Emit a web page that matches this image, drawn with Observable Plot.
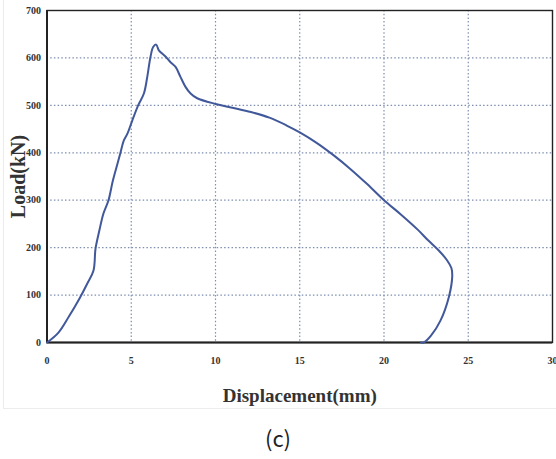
<!DOCTYPE html>
<html>
<head>
<meta charset="utf-8">
<script src="https://cdn.jsdelivr.net/npm/d3@7"></script>
<script src="https://cdn.jsdelivr.net/npm/@observablehq/plot@0.6"></script>
<style>
  html, body { margin: 0; padding: 0; background: #fff; }
  #wrap { width: 556px; height: 459px; position: relative; }
  #chart { position: absolute; left: 0; top: 0; }
  #frame { position: absolute; left: 3px; top: 0; width: 553px; height: 408px; border-left: 1px solid #ececec; border-bottom: 1px solid #ececec; }
  #caption { position: absolute; left: 0; top: 422px; width: 556px; text-align: center; font-family: "Noto Sans CJK KR", "Noto Sans", sans-serif; font-size: 22px; line-height: 30px; color: #222; }
</style>
</head>
<body>
<div id="wrap">
  <div id="frame"></div>
  <div id="chart"></div>
  <div id="caption">(c)</div>
</div>
<script>
const disp = [0, 0.68, 1.3, 1.93, 2.4, 2.76, 2.88, 3.1, 3.35, 3.65, 3.9, 4.12, 4.36, 4.56, 4.78, 5.06, 5.41, 5.75, 5.95, 6.14, 6.3, 6.48, 6.64, 7.03, 7.33, 7.63, 7.92, 8.22, 8.52, 8.91, 10.0, 11.0, 12.1, 13.2, 14.2, 15.0, 16.0, 17.0, 18.0, 19.0, 20.0, 21.0, 22.0, 22.6, 23.25, 23.75, 24.0, 24.05, 23.85, 23.35, 22.8, 22.36, 22.2];
const load = [0, 21, 55, 93, 125, 152, 198, 235, 272, 300, 340, 369, 400, 426, 441, 468, 500, 525, 560, 602, 623, 628, 616, 603, 591, 581, 560, 539, 525, 515, 503, 495, 486, 474, 458, 443, 421, 395, 366, 334, 300, 270, 238, 216, 194, 173, 157, 140, 96, 46, 15, 0, 0];
const xTicks = [0, 5, 10, 15, 20, 25, 30];
const yTicks = [0, 100, 200, 300, 400, 500, 600, 700];
const xGrid = [5, 10, 15, 20, 25];
const yGrid = [100, 200, 300, 400, 500, 600];
const xLabel = "Displacement(mm)";
const yLabel = "Load(kN)";

const pts = disp.map((d, i) => ({x: d, y: load[i]}));
const serif = "'Liberation Serif', 'DejaVu Serif', serif";

const chart = Plot.plot({
  width: 556,
  height: 410,
  marginLeft: 46.5,
  marginRight: 4,
  marginTop: 10,
  marginBottom: 68,
  style: {fontFamily: serif, background: "transparent"},
  x: {domain: [0, 30]},
  y: {domain: [0, 700]},
  marks: [
    Plot.ruleX(xGrid, {stroke: "#7f8fb0", strokeWidth: 1.2, strokeDasharray: "1.5,2.2"}),
    Plot.ruleY(yGrid, {stroke: "#7f8fb0", strokeWidth: 1.2, strokeDasharray: "1.5,2.2"}),
    Plot.frame({stroke: "#222", strokeWidth: 1.4}),
    Plot.ruleX([0], {stroke: "#222", strokeWidth: 2}),
    Plot.ruleY([0], {stroke: "#222", strokeWidth: 2}),
    Plot.line(pts, {x: "x", y: "y", stroke: "#41589a", strokeWidth: 2, curve: "catmull-rom"}),
    Plot.axisX(xTicks, {tickSize: 0, tickPadding: 14, fontSize: 10, fontWeight: "bold", fill: "#333", label: null}),
    Plot.axisY(yTicks, {tickSize: 0, tickPadding: 6, fontSize: 10, fontWeight: "bold", fill: "#333", label: null}),
    Plot.text([xLabel], {frameAnchor: "bottom", textAnchor: "middle", lineAnchor: "middle", dy: 53, fontSize: 19, fontWeight: "bold", fill: "#333", fontFamily: serif}),
    Plot.text([yLabel], {frameAnchor: "left", textAnchor: "middle", lineAnchor: "middle", dx: -28, rotate: -90, fontSize: 20, fontWeight: "bold", fill: "#333", fontFamily: serif})
  ]
});
document.getElementById("chart").appendChild(chart);
</script>
</body>
</html>
